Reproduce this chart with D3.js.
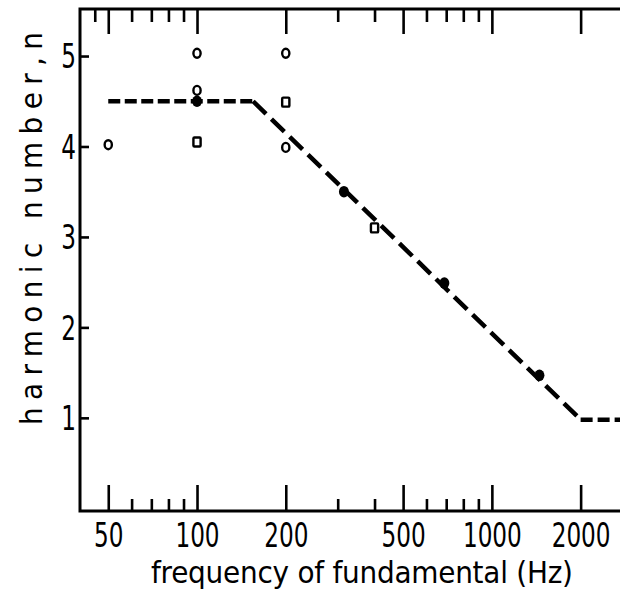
<!DOCTYPE html>
<html>
<head>
<meta charset="utf-8">
<script src="https://cdn.jsdelivr.net/npm/d3@7"></script>
<style>
html,body{margin:0;padding:0;background:#fff;}
svg{display:block;}
text{font-family:"Liberation Sans Narrow","DejaVu Sans Condensed","Liberation Sans",sans-serif;fill:#000;}
</style>
</head>
<body>
<svg id="chart" width="620" height="606"></svg>
<script>
// ---- data ----
const openCircleFreq = [50, 100, 100, 200, 200];
const openCircleN    = [4.02, 5.03, 4.62, 5.03, 3.99];
const filledFreq     = [100, 315, 690, 1450];
const filledN        = [4.5, 3.5, 2.49, 1.47];
const squareFreq     = [100, 200, 400];
const squareN        = [4.05, 4.49, 3.1];
const lineFlatFreq   = [50, 155];
const lineFlatN      = [4.5, 4.5];
const lineSlopeFreq  = [155, 2000];
const lineSlopeN     = [4.5, 0.98];
const lineEndFreq    = [2000, 2720];
const lineEndN       = [0.98, 0.98];
const xMajorTicks    = [50, 100, 200, 500, 1000, 2000];
const xMinorTicks    = [60, 70, 80, 90, 300, 400, 600, 700, 800, 900];
const xTopExtraTicks = [45];
const yTicks         = [1, 2, 3, 4, 5];
const xTitle = "frequency of fundamental (Hz)";
const yTitle = "harmonic number,n";

// ---- scales ----
const svg = d3.select("#chart");
const L = 80, R = 620, T = 9, B = 511;
const x = d3.scaleLog().domain([40.1, 2720]).range([L, R]);
const y = d3.scaleLinear().domain([-0.03, 5.52]).range([B, T]);

// frame
svg.append("path")
  .attr("d", `M${R},${T} H${L} V${B} H${R}`)
  .attr("fill", "none").attr("stroke", "#000").attr("stroke-width", 3);

// bottom axis (ticks inside)
const gBottom = svg.append("g").attr("transform", `translate(0,${B})`);
gBottom.call(d3.axisBottom(x).tickValues(xMajorTicks).tickSize(-26).tickPadding(38)
  .tickFormat(d3.format("d")));
gBottom.append("g").call(d3.axisBottom(x).tickValues(xMinorTicks).tickSize(-12).tickFormat(""));
// top axis (ticks inside)
const gTop = svg.append("g").attr("transform", `translate(0,${T})`);
gTop.call(d3.axisTop(x).tickValues(xMajorTicks).tickSize(-25).tickFormat(""));
gTop.append("g").call(d3.axisTop(x).tickValues(xMinorTicks.concat(xTopExtraTicks)).tickSize(-13).tickFormat(""));
// left axis
const gLeft = svg.append("g").attr("transform", `translate(${L},0)`);
gLeft.call(d3.axisLeft(y).tickValues(yTicks).tickSize(-9).tickPadding(4).tickFormat(d3.format("d")));

svg.selectAll(".domain").remove();
svg.selectAll(".tick line").attr("stroke", "#000").attr("stroke-width", 2.6);
const sx = 0.78;
gBottom.selectAll(".tick text").attr("font-size", 33).attr("dy", 0).attr("y", 36)
  .attr("transform", `scale(${sx},1)`);
gLeft.selectAll(".tick text").attr("font-size", 33).attr("dy", "0.36em").attr("x", -4 / sx)
  .attr("transform", `scale(${sx},1)`);

// dashed line
const line = d3.line().x(d => x(d[0])).y(d => y(d[1]));
function seg(fs, ns, dash) {
  svg.append("path").datum(fs.map((f, i) => [f, ns[i]]))
    .attr("d", line).attr("fill", "none").attr("stroke", "#000")
    .attr("stroke-width", 4.5).attr("stroke-dasharray", dash);
}
seg(lineFlatFreq, lineFlatN, "12,4.5");
seg(lineSlopeFreq, lineSlopeN, "18,7.5");
seg(lineEndFreq, lineEndN, "12,5");

// markers
svg.append("g").selectAll("ellipse").data(openCircleFreq.map((f, i) => [f, openCircleN[i]]))
  .join("ellipse").attr("cx", d => x(d[0])).attr("cy", d => y(d[1]))
  .attr("rx", 3.6).attr("ry", 4.5).attr("fill", "#fff").attr("stroke", "#000").attr("stroke-width", 2.4);
svg.append("g").selectAll("ellipse").data(filledFreq.map((f, i) => [f, filledN[i]]))
  .join("ellipse").attr("cx", d => x(d[0])).attr("cy", d => y(d[1]))
  .attr("rx", 5).attr("ry", 5.8).attr("fill", "#000");
svg.append("g").selectAll("rect").data(squareFreq.map((f, i) => [f, squareN[i]]))
  .join("rect").attr("x", d => x(d[0]) - 3.6).attr("y", d => y(d[1]) - 4.5)
  .attr("width", 7.2).attr("height", 9).attr("rx", 1)
  .attr("fill", "#fff").attr("stroke", "#000").attr("stroke-width", 2.4);

// titles
svg.append("text").attr("x", 151).attr("y", 583).attr("font-size", 31)
  .attr("textLength", 422).attr("lengthAdjust", "spacing").text(xTitle);
svg.append("text").attr("transform", "translate(42,425) rotate(-90)")
  .attr("font-size", 31).attr("textLength", 393).attr("lengthAdjust", "spacing").text(yTitle);
</script>
</body>
</html>
